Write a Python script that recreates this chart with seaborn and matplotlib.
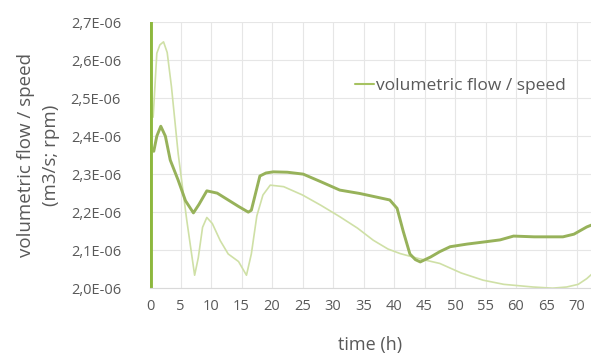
import matplotlib
matplotlib.use("Agg")
import matplotlib.pyplot as plt
import seaborn as sns
import pandas as pd
from matplotlib.lines import Line2D

# data (values in 1e-6 units)
flow_t = [0.6, 1.1, 1.75, 2.5, 3.3, 4.6, 5.8, 7.1, 8.0, 9.3, 11.0, 12.8, 14.5, 16.1, 16.6, 17.3, 18.0,
          19.0, 20.2, 22.5, 25.1, 28.0, 31.1, 34.4, 37.0, 39.3, 40.5, 41.5, 42.6, 43.5, 44.3, 46.0,
          47.5, 49.2, 52.0, 55.0, 57.4, 59.6, 63.0, 67.7, 69.5, 71.6, 73.0]
flow_v = [2.36, 2.40, 2.426, 2.40, 2.337, 2.284, 2.23, 2.198, 2.22, 2.256, 2.25, 2.232, 2.215, 2.20, 2.205, 2.25, 2.295,
          2.303, 2.306, 2.305, 2.30, 2.28, 2.258, 2.249, 2.24, 2.232, 2.21, 2.15, 2.09, 2.075, 2.069, 2.082,
          2.096, 2.109, 2.116, 2.122, 2.127, 2.137, 2.135, 2.135, 2.142, 2.161, 2.17]

ref_t = [0.5, 1.1, 1.6, 2.2, 2.8, 3.5, 4.6, 6.0, 7.3, 7.9, 8.6, 9.3, 10.2, 11.5, 12.8, 14.5, 15.8, 16.6,
         17.5, 18.5, 19.7, 21.9, 25.0, 28.0, 31.1, 34.0, 36.6, 39.0, 41.0, 44.0, 47.5, 51.0, 54.6, 58.0,
         62.8, 66.0, 68.3, 70.2, 71.6, 73.0]
ref_v = [2.45, 2.618, 2.64, 2.648, 2.62, 2.53, 2.354, 2.18, 2.034, 2.08, 2.16, 2.186, 2.17, 2.125, 2.09, 2.07, 2.034, 2.09,
         2.19, 2.245, 2.271, 2.267, 2.245, 2.218, 2.188, 2.158, 2.126, 2.103, 2.091, 2.078, 2.065, 2.04, 2.021, 2.01,
         2.003, 2.0, 2.003, 2.01, 2.025, 2.045]

speed_t = [0.0, 0.0]
speed_v = [1.9, 2.8]

yticks = [2.0, 2.1, 2.2, 2.3, 2.4, 2.5, 2.6, 2.7]
ytick_labels = ["2,0E-06", "2,1E-06", "2,2E-06", "2,3E-06", "2,4E-06", "2,5E-06", "2,6E-06", "2,7E-06"]
xticks = list(range(0, 71, 5))

sns.set_style("white")
plt.rcParams['font.family'] = ['Open Sans', 'DejaVu Sans']

fig = plt.figure(figsize=(5.91, 3.62), dpi=100)
ax = fig.add_axes([0.254, 0.204, 0.746, 0.735])

df_flow = pd.DataFrame({"t": flow_t, "v": [v * 1e-6 for v in flow_v]})
df_ref = pd.DataFrame({"t": ref_t, "v": [v * 1e-6 for v in ref_v]})
df_speed = pd.DataFrame({"t": speed_t, "v": [v * 1e-6 for v in speed_v]})

sns.lineplot(data=df_ref, x="t", y="v", ax=ax, color="#cfe0a6", linewidth=1.2, estimator=None, sort=False)
sns.lineplot(data=df_flow, x="t", y="v", ax=ax, color="#97b25a", linewidth=2.1, estimator=None, sort=False)
sns.lineplot(data=df_speed, x="t", y="v", ax=ax, color="#8db83e", linewidth=3.5, estimator=None, sort=False)
for ln in ax.get_lines():
    ln.set_solid_joinstyle("round")

ax.set_xlim(0, 72.3)
ax.set_ylim(2.0e-6, 2.7e-6)
ax.set_yticks([v * 1e-6 for v in yticks])
ax.set_yticklabels(ytick_labels)
ax.set_xticks(xticks)
ax.set_xticklabels([str(x) for x in xticks])
ax.tick_params(axis="both", colors="#595959", labelsize=10.5, length=0)
ax.tick_params(axis="y", pad=21)
ax.tick_params(axis="x", pad=8)
ax.grid(True, color="#e6e6e6", linewidth=0.8)
for s in ["top", "right", "left"]:
    ax.spines[s].set_visible(False)
ax.spines["bottom"].set_color("#d9d9d9")

ax.set_xlabel("time (h)", color="#595959", fontsize=13, labelpad=16)
ax.set_ylabel("volumetric flow / speed\n(m3/s; rpm)", color="#595959", fontsize=13.5, labelpad=8,
              linespacing=1.45)

handle = Line2D([0], [0], color="#a6c261", linewidth=1.5)
leg = ax.legend([handle], ["volumetric flow / speed"], loc="upper left", bbox_to_anchor=(0.43, 0.85),
                frameon=False, fontsize=12.5, handlelength=1.1, handletextpad=0.1, labelcolor="#595959")

fig.savefig("out.png", dpi=100)
